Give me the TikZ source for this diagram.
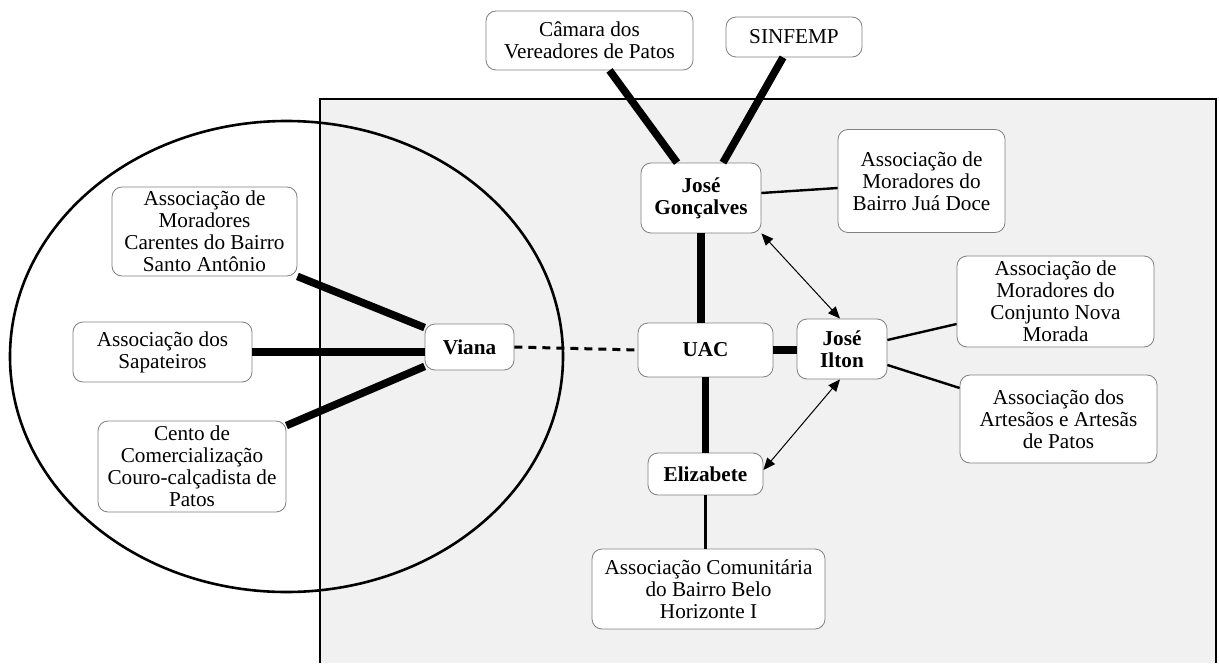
\documentclass[tikz,border=0pt]{standalone}
\usepackage{amsmath, amssymb}
\usepackage{fontspec}
\setmainfont{Liberation Serif}
\usetikzlibrary{arrows.meta}

\definecolor{regiao}{RGB}{241,241,241}
\tikzset{
  caixa/.style={draw=gray, rounded corners=5pt, fill=white, align=center,
    inner sep=1pt, font=\fontsize{10.6}{11}\selectfont},
  forte/.style={line width=3.8pt},
  fraca/.style={line width=1.2pt},
  troca/.style={line width=0.5pt, {Triangle[length=6pt,width=5pt]}-{Triangle[length=6pt,width=5pt]}}
}

\begin{document}
\begin{tikzpicture}[x=0.5pt,y=-0.5pt]
  \useasboundingbox (0,0) rectangle (1219,663);

  \fill[regiao] (320,663) rectangle (1216,99);
  \draw[line width=1.3pt] (320,663) -- (320,99) -- (1216,99) -- (1216,663);
  \draw[line width=1.3pt] (286.5,356.5) ellipse (138.25pt and 117.75pt);

  \node[caixa, minimum width=103.5pt, minimum height=29.5pt] (camara) at (589.5,40.5) {Câmara dos\\Vereadores de Patos};
  \node[caixa, minimum width=68pt, minimum height=20pt] (sinfemp) at (794,37) {SINFEMP};
  \node[caixa, minimum width=60pt, minimum height=35pt, font=\fontsize{10.6}{11}\selectfont\bfseries] (jg) at (701,198) {José\\Gonçalves};
  \node[caixa, minimum width=83.5pt, minimum height=51.5pt] (jua) at (921.5,181) {Associação de\\Moradores do\\Bairro Juá Doce};
  \node[caixa, minimum width=67.5pt, minimum height=27pt, font=\fontsize{10.6}{11}\selectfont\bfseries] (uac) at (705.5,350) {UAC};
  \node[caixa, minimum width=45pt, minimum height=30pt, font=\fontsize{10.6}{11}\selectfont\bfseries] (ilton) at (842,349) {José\\Ilton};
  \node[caixa, minimum width=57.5pt, minimum height=21pt, font=\fontsize{10.6}{11}\selectfont\bfseries] (eliz) at (705.5,474) {Elizabete};
  \node[caixa, minimum width=116.5pt, minimum height=40pt] (belo) at (708.5,589) {Associação Comunitária\\do Bairro Belo\\Horizonte I};
  \node[caixa, minimum width=98.5pt, minimum height=45.5pt] (nova) at (1055.5,301.5) {Associação de\\Moradores do\\Conjunto Nova\\Morada};
  \node[caixa, minimum width=98.5pt, minimum height=44pt] (artes) at (1058.5,419) {Associação dos\\Artesãos e Artesãs\\de Patos};
  \node[caixa, minimum width=44.5pt, minimum height=23pt, font=\fontsize{10.6}{11}\selectfont\bfseries] (viana) at (469.5,347) {Viana};
  \node[caixa, minimum width=92.5pt, minimum height=44.5pt] (carentes) at (204.5,231.5) {Associação de\\Moradores\\Carentes do Bairro\\Santo Antônio};
  \node[caixa, minimum width=89.5pt, minimum height=30pt] (sapat) at (162.5,352) {Associação dos\\Sapateiros};
  \node[caixa, minimum width=94pt, minimum height=45.5pt] (cento) at (192,466.5) {Cento de\\Comercialização\\Couro-calçadista de\\Patos};

  \draw[forte] ([xshift=10pt]camara.south) -- ([xshift=-12pt]jg.north);
  \draw[forte] ([xshift=-5.5pt]sinfemp.south) -- ([xshift=11pt]jg.north);
  \draw[forte] (jg.south) -- (jg.south |- uac.north);
  \draw[forte] (uac.south) -- (uac.south |- eliz.north);
  \draw[forte] (uac.east) -- (ilton.west |- uac.east);
  \draw[forte] (carentes.south east) -- ([yshift=-2pt]viana.north west);
  \draw[forte] (sapat.east) -- (sapat.east -| viana.west);
  \draw[forte] ([yshift=-2.5pt]cento.north east) -- ([yshift=2pt]viana.south west);
  \draw[line width=1.5pt, dash pattern=on 4pt off 3pt] (viana.east) -- (uac.west);

  \draw[fraca] ([yshift=2.5pt]jg.east) -- ([yshift=-3.5pt]jua.west);
  \draw[fraca] ([yshift=4.5pt]ilton.east) -- ([yshift=-11.25pt]nova.west);
  \draw[fraca] ([yshift=-8pt]ilton.east) -- ([yshift=15.5pt]artes.west);
  \draw[fraca] (eliz.south) -- (eliz.south |- belo.north);

  \draw[troca] (jg.south east) -- ([xshift=-1pt]ilton.north);
  \draw[troca] ([xshift=-1pt]ilton.south) -- ([yshift=2pt]eliz.east);
\end{tikzpicture}
\end{document}
